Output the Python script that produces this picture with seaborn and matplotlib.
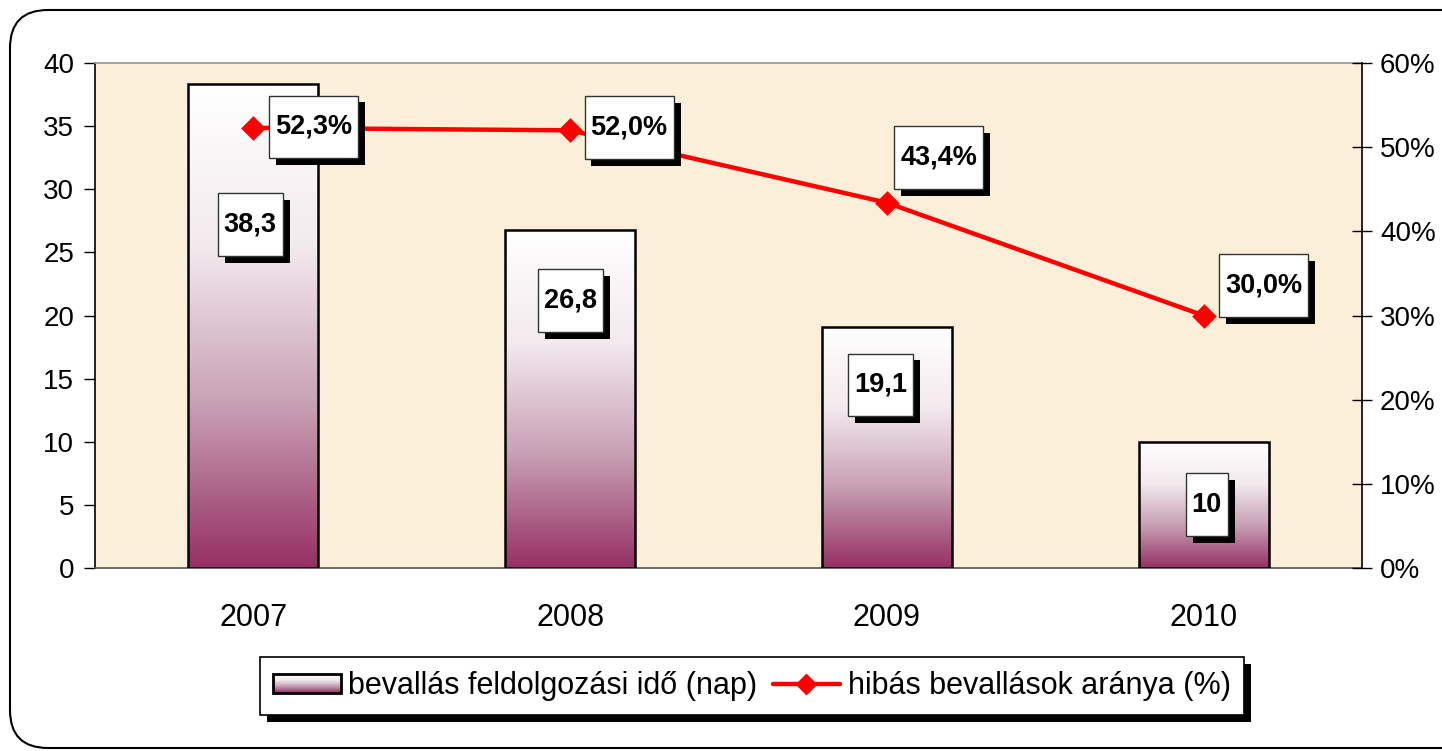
import numpy as np
import seaborn as sns
import matplotlib.pyplot as plt
from matplotlib.colors import LinearSegmentedColormap
from matplotlib.patches import FancyBboxPatch, Rectangle
from matplotlib.path import Path
from matplotlib.transforms import IdentityTransform
from matplotlib.legend_handler import HandlerBase
from matplotlib.lines import Line2D
import matplotlib.patheffects as pe

years = ["2007", "2008", "2009", "2010"]
days = [38.3, 26.8, 19.1, 10]
error_pct = [52.3, 52.0, 43.4, 30.0]

bar_label_text = ["38,3", "26,8", "19,1", "10"]
pct_label_text = ["52,3%", "52,0%", "43,4%", "30,0%"]

# where the (hand-placed) label boxes sit
bar_label_y = [27.2, 21.2, 14.5, 5.0]
bar_label_dx = [-0.01, 0.0, -0.02, 0.01]
pct_label_y = [52.4, 52.3, 48.8, 33.6]
pct_label_dx = [0.19, 0.186, 0.164, 0.19]

sns.set_theme(style="white")
plt.rcParams["font.family"] = ["Liberation Sans", "DejaVu Sans"]
plt.rcParams["text.color"] = "black"
plt.rcParams["xtick.color"] = "black"
plt.rcParams["ytick.color"] = "black"

bar_cmap = LinearSegmentedColormap.from_list("bar", ["#963063", "#c79fb3", "#f3eaee", "#ffffff"])


def tall_box(x0, y0, width, height, mutation_size):
    px = 0.22 * mutation_size
    py = 0.68 * mutation_size
    verts = [(x0 - px, y0 - py), (x0 + width + px, y0 - py),
             (x0 + width + px, y0 + height + py), (x0 - px, y0 + height + py),
             (x0 - px, y0 - py)]
    codes = [Path.MOVETO, Path.LINETO, Path.LINETO, Path.LINETO, Path.CLOSEPOLY]
    return Path(verts, codes)


def label_box(axis, x, y, s):
    t = axis.text(x, y, s, ha="center", va="center", fontsize=19.5, fontweight="bold",
                  color="black", zorder=10,
                  bbox=dict(boxstyle=tall_box, fc="white", ec="#333333", lw=1))
    t.get_bbox_patch().set_path_effects(
        [pe.SimplePatchShadow(offset=(5, -5), shadow_rgbFace="black", alpha=1), pe.Normal()])
    return t


class GradientHandler(HandlerBase):
    def create_artists(self, legend, orig_handle, xdescent, ydescent, width, height, fontsize, trans):
        arts = []
        n = 20
        for i in range(n):
            r = Rectangle((-xdescent, -ydescent + height * i / n), width, height / n + 0.3,
                          facecolor=bar_cmap(i / (n - 1)), edgecolor="none", transform=trans)
            arts.append(r)
        arts.append(Rectangle((-xdescent, -ydescent), width, height, facecolor="none",
                              edgecolor="black", lw=2, transform=trans))
        return arts


fig = plt.figure(figsize=(14.42, 7.51), dpi=100)
fig.patch.set_facecolor("white")
ax = fig.add_axes([95 / 1442, 1 - 568 / 751, 1267 / 1442, 505 / 751])
ax.set_facecolor("#fbefd9")

sns.barplot(x=years, y=days, ax=ax, width=0.41, color="white", edgecolor="black",
            linewidth=1.8, zorder=3)

# vertical gradient inside each bar
grad = np.linspace(0, 1, 256).reshape(-1, 1)
for p in ax.patches:
    x0, w, h = p.get_x(), p.get_width(), p.get_height()
    im = ax.imshow(grad, extent=[x0, x0 + w, 0, h], origin="lower", aspect="auto",
                   cmap=bar_cmap, zorder=2.5)
    im.set_clip_path(p)
    p.set_facecolor("none")

ax.set_xlim(-0.5, 3.5)
ax.set_ylim(0, 40)
ax.set_yticks(np.arange(0, 41, 5))
ax.set_xticks(range(4))
ax.set_xticklabels(years)
ax.set_xticks([0.5, 1.5, 2.5, 3.5, -0.5], minor=True)
ax.tick_params(axis="x", which="major", length=0, pad=25, labelsize=22)
ax.tick_params(axis="x", which="minor", length=8, width=1, color="#444444", direction="out")
ax.tick_params(axis="y", length=8, width=1, color="black", direction="out", pad=7, labelsize=20)
ax.set_xlabel("")
ax.set_ylabel("")
ax.spines["left"].set_color("black")
ax.spines["left"].set_linewidth(1.2)
ax.spines["bottom"].set_color("#555555")
ax.spines["bottom"].set_linewidth(1.2)
ax.spines["top"].set_color("#999999")
ax.spines["right"].set_visible(False)

for i, (v, s) in enumerate(zip(bar_label_y, bar_label_text)):
    label_box(ax, i + bar_label_dx[i], v, s)

ax2 = ax.twinx()
sns.pointplot(x=years, y=error_pct, ax=ax2, color="#ff0000", markers="D", errorbar=None,
              markersize=10, linewidth=3.2)
ax2.set_xlim(-0.5, 3.5)
ax2.set_ylim(0, 60)
ax2.set_yticks(np.arange(0, 61, 10))
ax2.set_yticklabels([f"{v}%" for v in range(0, 61, 10)])
ax2.tick_params(axis="y", length=14, width=1, color="black", direction="inout", pad=6, labelsize=20)
ax2.set_ylabel("")
ax2.spines["right"].set_color("black")
ax2.spines["right"].set_linewidth(1.2)
for s in ["left", "bottom", "top"]:
    ax2.spines[s].set_visible(False)
ax2.grid(False)
ax.grid(False)

for i, (v, s) in enumerate(zip(pct_label_y, pct_label_text)):
    label_box(ax2, i + pct_label_dx[i], v, s)

# legend
bar_handle = Rectangle((0, 0), 1, 1)
line_handle = Line2D([], [], color="#ff0000", lw=3.2, marker="D", markersize=10)
leg = fig.legend([bar_handle, line_handle],
                 ["bevallás feldolgozási idő (nap)", "hibás bevallások aránya (%)"],
                 handler_map={Rectangle: GradientHandler()},
                 loc="center", bbox_to_anchor=(752 / 1442, 1 - 686 / 751), ncol=2,
                 fontsize=22, frameon=True, fancybox=False, edgecolor="black",
                 facecolor="white", framealpha=1,
                 handlelength=2.2, handleheight=0.6, columnspacing=0.5, handletextpad=0.25,
                 borderpad=0.45, borderaxespad=0)
leg.get_frame().set_linewidth(1.2)
leg.get_frame().set_path_effects(
    [pe.SimplePatchShadow(offset=(5, -5), shadow_rgbFace="black", alpha=1), pe.Normal()])

# outer rounded frame
frame = FancyBboxPatch((10, 3), 1480, 738, boxstyle="round,pad=0,rounding_size=38",
                       transform=IdentityTransform(), facecolor="none", edgecolor="black",
                       lw=1.5, zorder=0)
fig.add_artist(frame)

fig.savefig("out.png", dpi=100)
